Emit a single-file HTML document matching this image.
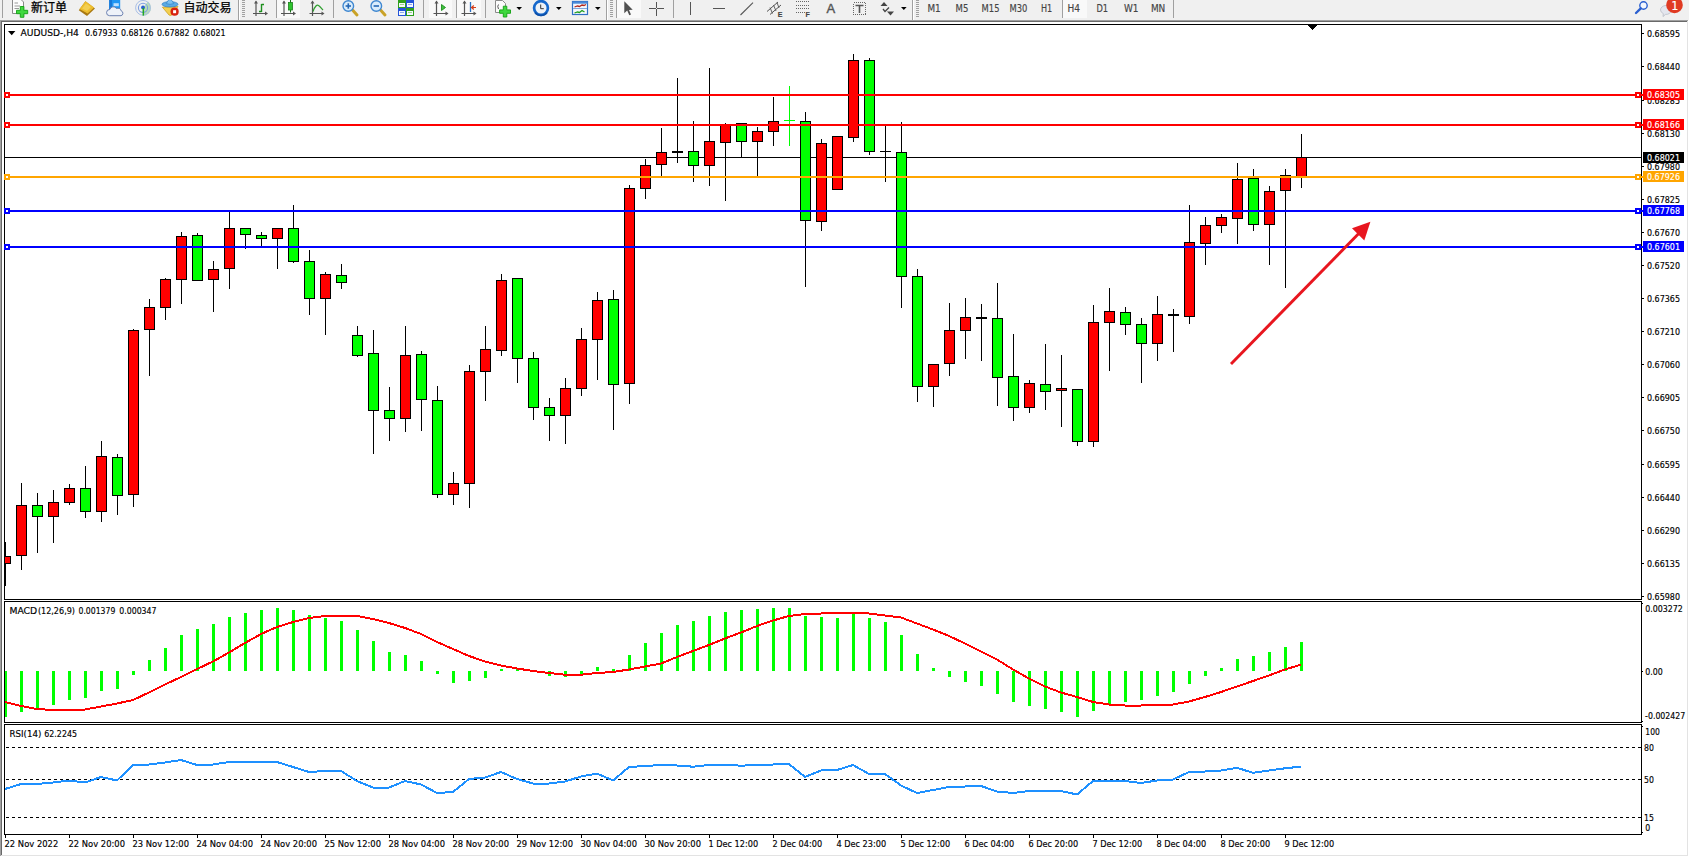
<!DOCTYPE html>
<html><head><meta charset="utf-8"><title>AUDUSD H4</title>
<style>
html,body{margin:0;padding:0;background:#fff}
body{width:1689px;height:857px;overflow:hidden;position:relative}
svg{position:absolute;left:0;top:0;display:block}
text{font-family:"DejaVu Sans Condensed","DejaVu Sans","Liberation Sans","Noto Sans CJK SC",sans-serif;font-stretch:condensed;font-size:9.2px;fill:#000;white-space:pre;stroke:#000;stroke-width:.15px}
text.ls{font-family:"Liberation Sans",sans-serif;font-stretch:normal}
.ce{shape-rendering:crispEdges}
.tf text{font-size:9.6px;fill:#444;stroke:#444}
text.cj{font-family:"Liberation Sans","Noto Sans CJK SC",sans-serif;font-stretch:normal;font-size:12px;fill:#000;stroke-width:.25px}
</style></head><body>
<svg width="1689" height="857" viewBox="0 0 1689 857">
<g class="ce">
<rect x="0" y="0" width="1689" height="857" fill="#fff"/><rect x="0" y="0" width="1689" height="20" fill="#f0f0f0"/><rect x="0" y="20" width="1688" height="1" fill="#a0a0a0"/><rect x="1" y="21" width="1686" height="1" fill="#696969"/><rect x="0" y="20" width="1" height="836" fill="#a0a0a0"/><rect x="1" y="21" width="1" height="834" fill="#696969"/><rect x="1687" y="21" width="1" height="835" fill="#e3e3e3"/><rect x="1" y="855" width="1687" height="1" fill="#e3e3e3"/><rect x="4" y="24" width="1638" height="1" fill="#000"/><rect x="4" y="599" width="1638" height="1" fill="#000"/><rect x="4" y="24" width="1" height="576" fill="#000"/><rect x="1641" y="24" width="1" height="576" fill="#000"/><rect x="4" y="601" width="1638" height="1" fill="#000"/><rect x="4" y="722" width="1638" height="1" fill="#000"/><rect x="4" y="601" width="1" height="122" fill="#000"/><rect x="1641" y="601" width="1" height="122" fill="#000"/><rect x="4" y="724" width="1638" height="1" fill="#000"/><rect x="4" y="834" width="1638" height="1" fill="#000"/><rect x="4" y="724" width="1" height="111" fill="#000"/><rect x="1641" y="724" width="1" height="111" fill="#000"/>
</g>
<g class="ce" id="main">
<rect x="5" y="157" width="1636" height="1" fill="#000"/><rect x="5" y="542" width="1" height="44" fill="#000"/><rect x="5" y="556" width="6" height="8" fill="#000"/><rect x="5" y="557" width="5" height="6" fill="#ff0000"/><rect x="21" y="483" width="1" height="87" fill="#000"/><rect x="16" y="505" width="11" height="51" fill="#000"/><rect x="17" y="506" width="9" height="49" fill="#ff0000"/><rect x="37" y="493" width="1" height="60" fill="#000"/><rect x="32" y="505" width="11" height="12" fill="#000"/><rect x="33" y="506" width="9" height="10" fill="#00ff00"/><rect x="53" y="490" width="1" height="53" fill="#000"/><rect x="48" y="502" width="11" height="15" fill="#000"/><rect x="49" y="503" width="9" height="13" fill="#ff0000"/><rect x="69" y="484" width="1" height="21" fill="#000"/><rect x="64" y="488" width="11" height="15" fill="#000"/><rect x="65" y="489" width="9" height="13" fill="#ff0000"/><rect x="85" y="466" width="1" height="52" fill="#000"/><rect x="80" y="488" width="11" height="24" fill="#000"/><rect x="81" y="489" width="9" height="22" fill="#00ff00"/><rect x="101" y="441" width="1" height="81" fill="#000"/><rect x="96" y="456" width="11" height="56" fill="#000"/><rect x="97" y="457" width="9" height="54" fill="#ff0000"/><rect x="117" y="454" width="1" height="61" fill="#000"/><rect x="112" y="457" width="11" height="39" fill="#000"/><rect x="113" y="458" width="9" height="37" fill="#00ff00"/><rect x="133" y="329" width="1" height="178" fill="#000"/><rect x="128" y="330" width="11" height="165" fill="#000"/><rect x="129" y="331" width="9" height="163" fill="#ff0000"/><rect x="149" y="299" width="1" height="77" fill="#000"/><rect x="144" y="307" width="11" height="23" fill="#000"/><rect x="145" y="308" width="9" height="21" fill="#ff0000"/><rect x="165" y="278" width="1" height="42" fill="#000"/><rect x="160" y="279" width="11" height="29" fill="#000"/><rect x="161" y="280" width="9" height="27" fill="#ff0000"/><rect x="181" y="232" width="1" height="72" fill="#000"/><rect x="176" y="236" width="11" height="44" fill="#000"/><rect x="177" y="237" width="9" height="42" fill="#ff0000"/><rect x="197" y="233" width="1" height="48" fill="#000"/><rect x="192" y="235" width="11" height="46" fill="#000"/><rect x="193" y="236" width="9" height="44" fill="#00ff00"/><rect x="213" y="261" width="1" height="51" fill="#000"/><rect x="208" y="269" width="11" height="11" fill="#000"/><rect x="209" y="270" width="9" height="9" fill="#ff0000"/><rect x="229" y="212" width="1" height="77" fill="#000"/><rect x="224" y="228" width="11" height="41" fill="#000"/><rect x="225" y="229" width="9" height="39" fill="#ff0000"/><rect x="245" y="228" width="1" height="21" fill="#000"/><rect x="240" y="228" width="11" height="7" fill="#000"/><rect x="241" y="229" width="9" height="5" fill="#00ff00"/><rect x="261" y="232" width="1" height="14" fill="#000"/><rect x="256" y="235" width="11" height="4" fill="#000"/><rect x="257" y="236" width="9" height="2" fill="#00ff00"/><rect x="277" y="228" width="1" height="41" fill="#000"/><rect x="272" y="228" width="11" height="11" fill="#000"/><rect x="273" y="229" width="9" height="9" fill="#ff0000"/><rect x="293" y="205" width="1" height="58" fill="#000"/><rect x="288" y="228" width="11" height="34" fill="#000"/><rect x="289" y="229" width="9" height="32" fill="#00ff00"/><rect x="309" y="250" width="1" height="65" fill="#000"/><rect x="304" y="261" width="11" height="38" fill="#000"/><rect x="305" y="262" width="9" height="36" fill="#00ff00"/><rect x="325" y="272" width="1" height="63" fill="#000"/><rect x="320" y="274" width="11" height="25" fill="#000"/><rect x="321" y="275" width="9" height="23" fill="#ff0000"/><rect x="341" y="264" width="1" height="25" fill="#000"/><rect x="336" y="275" width="11" height="8" fill="#000"/><rect x="337" y="276" width="9" height="6" fill="#00ff00"/><rect x="357" y="326" width="1" height="31" fill="#000"/><rect x="352" y="335" width="11" height="21" fill="#000"/><rect x="353" y="336" width="9" height="19" fill="#00ff00"/><rect x="373" y="330" width="1" height="124" fill="#000"/><rect x="368" y="353" width="11" height="58" fill="#000"/><rect x="369" y="354" width="9" height="56" fill="#00ff00"/><rect x="389" y="387" width="1" height="54" fill="#000"/><rect x="384" y="410" width="11" height="9" fill="#000"/><rect x="385" y="411" width="9" height="7" fill="#00ff00"/><rect x="405" y="326" width="1" height="106" fill="#000"/><rect x="400" y="355" width="11" height="64" fill="#000"/><rect x="401" y="356" width="9" height="62" fill="#ff0000"/><rect x="421" y="351" width="1" height="80" fill="#000"/><rect x="416" y="354" width="11" height="46" fill="#000"/><rect x="417" y="355" width="9" height="44" fill="#00ff00"/><rect x="437" y="386" width="1" height="112" fill="#000"/><rect x="432" y="400" width="11" height="95" fill="#000"/><rect x="433" y="401" width="9" height="93" fill="#00ff00"/><rect x="453" y="472" width="1" height="33" fill="#000"/><rect x="448" y="483" width="11" height="12" fill="#000"/><rect x="449" y="484" width="9" height="10" fill="#ff0000"/><rect x="469" y="365" width="1" height="143" fill="#000"/><rect x="464" y="371" width="11" height="113" fill="#000"/><rect x="465" y="372" width="9" height="111" fill="#ff0000"/><rect x="485" y="326" width="1" height="75" fill="#000"/><rect x="480" y="349" width="11" height="23" fill="#000"/><rect x="481" y="350" width="9" height="21" fill="#ff0000"/><rect x="501" y="274" width="1" height="82" fill="#000"/><rect x="496" y="280" width="11" height="71" fill="#000"/><rect x="497" y="281" width="9" height="69" fill="#ff0000"/><rect x="517" y="278" width="1" height="105" fill="#000"/><rect x="512" y="278" width="11" height="81" fill="#000"/><rect x="513" y="279" width="9" height="79" fill="#00ff00"/><rect x="533" y="352" width="1" height="68" fill="#000"/><rect x="528" y="358" width="11" height="50" fill="#000"/><rect x="529" y="359" width="9" height="48" fill="#00ff00"/><rect x="549" y="398" width="1" height="43" fill="#000"/><rect x="544" y="407" width="11" height="9" fill="#000"/><rect x="545" y="408" width="9" height="7" fill="#00ff00"/><rect x="565" y="378" width="1" height="66" fill="#000"/><rect x="560" y="388" width="11" height="28" fill="#000"/><rect x="561" y="389" width="9" height="26" fill="#ff0000"/><rect x="581" y="328" width="1" height="68" fill="#000"/><rect x="576" y="339" width="11" height="50" fill="#000"/><rect x="577" y="340" width="9" height="48" fill="#ff0000"/><rect x="597" y="292" width="1" height="88" fill="#000"/><rect x="592" y="300" width="11" height="40" fill="#000"/><rect x="593" y="301" width="9" height="38" fill="#ff0000"/><rect x="613" y="290" width="1" height="140" fill="#000"/><rect x="608" y="299" width="11" height="86" fill="#000"/><rect x="609" y="300" width="9" height="84" fill="#00ff00"/><rect x="629" y="185" width="1" height="219" fill="#000"/><rect x="624" y="188" width="11" height="196" fill="#000"/><rect x="625" y="189" width="9" height="194" fill="#ff0000"/><rect x="645" y="159" width="1" height="40" fill="#000"/><rect x="640" y="165" width="11" height="24" fill="#000"/><rect x="641" y="166" width="9" height="22" fill="#ff0000"/><rect x="661" y="128" width="1" height="48" fill="#000"/><rect x="656" y="152" width="11" height="13" fill="#000"/><rect x="657" y="153" width="9" height="11" fill="#ff0000"/><rect x="677" y="78" width="1" height="85" fill="#000"/><rect x="672" y="151" width="11" height="2" fill="#000"/><rect x="693" y="121" width="1" height="61" fill="#000"/><rect x="688" y="151" width="11" height="15" fill="#000"/><rect x="689" y="152" width="9" height="13" fill="#00ff00"/><rect x="709" y="68" width="1" height="118" fill="#000"/><rect x="704" y="141" width="11" height="25" fill="#000"/><rect x="705" y="142" width="9" height="23" fill="#ff0000"/><rect x="725" y="123" width="1" height="78" fill="#000"/><rect x="720" y="124" width="11" height="19" fill="#000"/><rect x="721" y="125" width="9" height="17" fill="#ff0000"/><rect x="741" y="123" width="1" height="34" fill="#000"/><rect x="736" y="123" width="11" height="19" fill="#000"/><rect x="737" y="124" width="9" height="17" fill="#00ff00"/><rect x="757" y="127" width="1" height="49" fill="#000"/><rect x="752" y="131" width="11" height="11" fill="#000"/><rect x="753" y="132" width="9" height="9" fill="#ff0000"/><rect x="773" y="97" width="1" height="49" fill="#000"/><rect x="768" y="121" width="11" height="11" fill="#000"/><rect x="769" y="122" width="9" height="9" fill="#ff0000"/><rect x="789" y="86" width="1" height="60" fill="#00ff00"/><rect x="784" y="120" width="11" height="1" fill="#00ff00"/><rect x="805" y="112" width="1" height="175" fill="#000"/><rect x="800" y="121" width="11" height="100" fill="#000"/><rect x="801" y="122" width="9" height="98" fill="#00ff00"/><rect x="821" y="139" width="1" height="92" fill="#000"/><rect x="816" y="143" width="11" height="79" fill="#000"/><rect x="817" y="144" width="9" height="77" fill="#ff0000"/><rect x="837" y="136" width="1" height="54" fill="#000"/><rect x="832" y="136" width="11" height="54" fill="#000"/><rect x="833" y="137" width="9" height="52" fill="#ff0000"/><rect x="853" y="54" width="1" height="88" fill="#000"/><rect x="848" y="60" width="11" height="78" fill="#000"/><rect x="849" y="61" width="9" height="76" fill="#ff0000"/><rect x="869" y="58" width="1" height="97" fill="#000"/><rect x="864" y="60" width="11" height="92" fill="#000"/><rect x="865" y="61" width="9" height="90" fill="#00ff00"/><rect x="885" y="126" width="1" height="56" fill="#000"/><rect x="880" y="151" width="11" height="1" fill="#000"/><rect x="901" y="122" width="1" height="186" fill="#000"/><rect x="896" y="152" width="11" height="125" fill="#000"/><rect x="897" y="153" width="9" height="123" fill="#00ff00"/><rect x="917" y="269" width="1" height="133" fill="#000"/><rect x="912" y="276" width="11" height="111" fill="#000"/><rect x="913" y="277" width="9" height="109" fill="#00ff00"/><rect x="933" y="364" width="1" height="43" fill="#000"/><rect x="928" y="364" width="11" height="23" fill="#000"/><rect x="929" y="365" width="9" height="21" fill="#ff0000"/><rect x="949" y="303" width="1" height="73" fill="#000"/><rect x="944" y="330" width="11" height="34" fill="#000"/><rect x="945" y="331" width="9" height="32" fill="#ff0000"/><rect x="965" y="298" width="1" height="61" fill="#000"/><rect x="960" y="317" width="11" height="14" fill="#000"/><rect x="961" y="318" width="9" height="12" fill="#ff0000"/><rect x="981" y="304" width="1" height="57" fill="#000"/><rect x="976" y="317" width="11" height="2" fill="#000"/><rect x="997" y="283" width="1" height="123" fill="#000"/><rect x="992" y="318" width="11" height="60" fill="#000"/><rect x="993" y="319" width="9" height="58" fill="#00ff00"/><rect x="1013" y="334" width="1" height="87" fill="#000"/><rect x="1008" y="376" width="11" height="32" fill="#000"/><rect x="1009" y="377" width="9" height="30" fill="#00ff00"/><rect x="1029" y="380" width="1" height="33" fill="#000"/><rect x="1024" y="383" width="11" height="25" fill="#000"/><rect x="1025" y="384" width="9" height="23" fill="#ff0000"/><rect x="1045" y="344" width="1" height="66" fill="#000"/><rect x="1040" y="384" width="11" height="8" fill="#000"/><rect x="1041" y="385" width="9" height="6" fill="#00ff00"/><rect x="1061" y="355" width="1" height="72" fill="#000"/><rect x="1056" y="388" width="11" height="3" fill="#000"/><rect x="1057" y="389" width="9" height="1" fill="#ff0000"/><rect x="1077" y="389" width="1" height="57" fill="#000"/><rect x="1072" y="389" width="11" height="53" fill="#000"/><rect x="1073" y="390" width="9" height="51" fill="#00ff00"/><rect x="1093" y="305" width="1" height="142" fill="#000"/><rect x="1088" y="322" width="11" height="120" fill="#000"/><rect x="1089" y="323" width="9" height="118" fill="#ff0000"/><rect x="1109" y="288" width="1" height="83" fill="#000"/><rect x="1104" y="311" width="11" height="12" fill="#000"/><rect x="1105" y="312" width="9" height="10" fill="#ff0000"/><rect x="1125" y="307" width="1" height="28" fill="#000"/><rect x="1120" y="312" width="11" height="13" fill="#000"/><rect x="1121" y="313" width="9" height="11" fill="#00ff00"/><rect x="1141" y="318" width="1" height="65" fill="#000"/><rect x="1136" y="324" width="11" height="20" fill="#000"/><rect x="1137" y="325" width="9" height="18" fill="#00ff00"/><rect x="1157" y="296" width="1" height="65" fill="#000"/><rect x="1152" y="314" width="11" height="30" fill="#000"/><rect x="1153" y="315" width="9" height="28" fill="#ff0000"/><rect x="1173" y="309" width="1" height="43" fill="#000"/><rect x="1168" y="314" width="11" height="2" fill="#000"/><rect x="1189" y="205" width="1" height="119" fill="#000"/><rect x="1184" y="242" width="11" height="75" fill="#000"/><rect x="1185" y="243" width="9" height="73" fill="#ff0000"/><rect x="1205" y="217" width="1" height="48" fill="#000"/><rect x="1200" y="225" width="11" height="19" fill="#000"/><rect x="1201" y="226" width="9" height="17" fill="#ff0000"/><rect x="1221" y="214" width="1" height="19" fill="#000"/><rect x="1216" y="217" width="11" height="9" fill="#000"/><rect x="1217" y="218" width="9" height="7" fill="#ff0000"/><rect x="1237" y="163" width="1" height="81" fill="#000"/><rect x="1232" y="179" width="11" height="40" fill="#000"/><rect x="1233" y="180" width="9" height="38" fill="#ff0000"/><rect x="1253" y="169" width="1" height="62" fill="#000"/><rect x="1248" y="178" width="11" height="47" fill="#000"/><rect x="1249" y="179" width="9" height="45" fill="#00ff00"/><rect x="1269" y="186" width="1" height="79" fill="#000"/><rect x="1264" y="191" width="11" height="34" fill="#000"/><rect x="1265" y="192" width="9" height="32" fill="#ff0000"/><rect x="1285" y="169" width="1" height="119" fill="#000"/><rect x="1280" y="175" width="11" height="16" fill="#000"/><rect x="1281" y="176" width="9" height="14" fill="#ff0000"/><rect x="1301" y="134" width="1" height="54" fill="#000"/><rect x="1296" y="157" width="11" height="20" fill="#000"/><rect x="1297" y="158" width="9" height="18" fill="#ff0000"/>
<rect x="4" y="94" width="1639" height="2" fill="#ff0000"/><rect x="4" y="92" width="6" height="6" fill="#ff0000"/><rect x="6" y="94" width="2" height="2" fill="#fff"/><rect x="1635" y="92" width="6" height="6" fill="#ff0000"/><rect x="1637" y="94" width="2" height="2" fill="#fff"/><rect x="1643" y="89" width="41" height="11" fill="#ff0000"/><rect x="4" y="124" width="1639" height="2" fill="#ff0000"/><rect x="4" y="122" width="6" height="6" fill="#ff0000"/><rect x="6" y="124" width="2" height="2" fill="#fff"/><rect x="1635" y="122" width="6" height="6" fill="#ff0000"/><rect x="1637" y="124" width="2" height="2" fill="#fff"/><rect x="1643" y="119" width="41" height="11" fill="#ff0000"/><rect x="4" y="176" width="1639" height="2" fill="#ffa500"/><rect x="4" y="174" width="6" height="6" fill="#ffa500"/><rect x="6" y="176" width="2" height="2" fill="#fff"/><rect x="1635" y="174" width="6" height="6" fill="#ffa500"/><rect x="1637" y="176" width="2" height="2" fill="#fff"/><rect x="1643" y="171" width="41" height="11" fill="#ffa500"/><rect x="4" y="210" width="1639" height="2" fill="#0000ff"/><rect x="4" y="208" width="6" height="6" fill="#0000ff"/><rect x="6" y="210" width="2" height="2" fill="#fff"/><rect x="1635" y="208" width="6" height="6" fill="#0000ff"/><rect x="1637" y="210" width="2" height="2" fill="#fff"/><rect x="1643" y="205" width="41" height="11" fill="#0000ff"/><rect x="4" y="246" width="1639" height="2" fill="#0000ff"/><rect x="4" y="244" width="6" height="6" fill="#0000ff"/><rect x="6" y="246" width="2" height="2" fill="#fff"/><rect x="1635" y="244" width="6" height="6" fill="#0000ff"/><rect x="1637" y="246" width="2" height="2" fill="#fff"/><rect x="1643" y="241" width="41" height="11" fill="#0000ff"/><rect x="1643" y="152" width="41" height="11" fill="#000"/><rect x="1308" y="25" width="9" height="1" fill="#000"/><rect x="1309" y="26" width="7" height="1" fill="#000"/><rect x="1310" y="27" width="5" height="1" fill="#000"/><rect x="1311" y="28" width="3" height="1" fill="#000"/><rect x="1312" y="29" width="1" height="1" fill="#000"/><path d="M8 31H15.4L11.7 35.2z" fill="#000" shape-rendering="auto"/><rect x="1642" y="33" width="2" height="1" fill="#000"/><rect x="1642" y="66" width="2" height="1" fill="#000"/><rect x="1642" y="100" width="2" height="1" fill="#000"/><rect x="1642" y="133" width="2" height="1" fill="#000"/><rect x="1642" y="166" width="2" height="1" fill="#000"/><rect x="1642" y="199" width="2" height="1" fill="#000"/><rect x="1642" y="232" width="2" height="1" fill="#000"/><rect x="1642" y="265" width="2" height="1" fill="#000"/><rect x="1642" y="298" width="2" height="1" fill="#000"/><rect x="1642" y="331" width="2" height="1" fill="#000"/><rect x="1642" y="364" width="2" height="1" fill="#000"/><rect x="1642" y="397" width="2" height="1" fill="#000"/><rect x="1642" y="430" width="2" height="1" fill="#000"/><rect x="1642" y="464" width="2" height="1" fill="#000"/><rect x="1642" y="497" width="2" height="1" fill="#000"/><rect x="1642" y="530" width="2" height="1" fill="#000"/><rect x="1642" y="563" width="2" height="1" fill="#000"/><rect x="1642" y="596" width="2" height="1" fill="#000"/>
</g>
<g id="plabels">
<text x="1647" y="37" textLength="33" lengthAdjust="spacingAndGlyphs">0.68595</text><text x="1647" y="70" textLength="33" lengthAdjust="spacingAndGlyphs">0.68440</text><text x="1647" y="104" textLength="33" lengthAdjust="spacingAndGlyphs">0.68285</text><text x="1647" y="137" textLength="33" lengthAdjust="spacingAndGlyphs">0.68130</text><text x="1647" y="170" textLength="33" lengthAdjust="spacingAndGlyphs">0.67980</text><text x="1647" y="203" textLength="33" lengthAdjust="spacingAndGlyphs">0.67825</text><text x="1647" y="236" textLength="33" lengthAdjust="spacingAndGlyphs">0.67670</text><text x="1647" y="269" textLength="33" lengthAdjust="spacingAndGlyphs">0.67520</text><text x="1647" y="302" textLength="33" lengthAdjust="spacingAndGlyphs">0.67365</text><text x="1647" y="335" textLength="33" lengthAdjust="spacingAndGlyphs">0.67210</text><text x="1647" y="368" textLength="33" lengthAdjust="spacingAndGlyphs">0.67060</text><text x="1647" y="401" textLength="33" lengthAdjust="spacingAndGlyphs">0.66905</text><text x="1647" y="434" textLength="33" lengthAdjust="spacingAndGlyphs">0.66750</text><text x="1647" y="468" textLength="33" lengthAdjust="spacingAndGlyphs">0.66595</text><text x="1647" y="501" textLength="33" lengthAdjust="spacingAndGlyphs">0.66440</text><text x="1647" y="534" textLength="33" lengthAdjust="spacingAndGlyphs">0.66290</text><text x="1647" y="567" textLength="33" lengthAdjust="spacingAndGlyphs">0.66135</text><text x="1647" y="600" textLength="33" lengthAdjust="spacingAndGlyphs">0.65980</text><g class="ce"><rect x="1643" y="89" width="41" height="11" fill="#ff0000"/><rect x="1643" y="119" width="41" height="11" fill="#ff0000"/><rect x="1643" y="171" width="41" height="11" fill="#ffa500"/><rect x="1643" y="205" width="41" height="11" fill="#0000ff"/><rect x="1643" y="241" width="41" height="11" fill="#0000ff"/><rect x="1643" y="152" width="41" height="11" fill="#000"/></g><text x="1647" y="98" textLength="33" lengthAdjust="spacingAndGlyphs" style="fill:#fff;stroke:#fff">0.68305</text><text x="1647" y="128" textLength="33" lengthAdjust="spacingAndGlyphs" style="fill:#fff;stroke:#fff">0.68166</text><text x="1647" y="180" textLength="33" lengthAdjust="spacingAndGlyphs" style="fill:#fff;stroke:#fff">0.67926</text><text x="1647" y="214" textLength="33" lengthAdjust="spacingAndGlyphs" style="fill:#fff;stroke:#fff">0.67768</text><text x="1647" y="250" textLength="33" lengthAdjust="spacingAndGlyphs" style="fill:#fff;stroke:#fff">0.67601</text><text x="1647" y="161" textLength="33" lengthAdjust="spacingAndGlyphs" style="fill:#fff;stroke:#fff">0.68021</text><text y="36"><tspan x="20.6" textLength="58.3" lengthAdjust="spacingAndGlyphs">AUDUSD-,H4</tspan> <tspan x="84.9" textLength="32.7" lengthAdjust="spacingAndGlyphs">0.67933</tspan> <tspan x="120.9" textLength="32.7" lengthAdjust="spacingAndGlyphs">0.68126</tspan> <tspan x="156.9" textLength="32.7" lengthAdjust="spacingAndGlyphs">0.67882</tspan> <tspan x="192.9" textLength="32.7" lengthAdjust="spacingAndGlyphs">0.68021</tspan></text>
</g>
<g id="arrow"><path d="M1231 364L1358.5 233.8" stroke="#e8161f" stroke-width="2.9" fill="none"/><path d="M1370.4 221.8L1352 228.2L1364.3 240.5z" fill="#e8161f"/></g>
<g class="ce" id="macd">
<rect x="5" y="671" width="2" height="46" fill="#00ff00"/><rect x="20" y="671" width="3" height="41" fill="#00ff00"/><rect x="36" y="671" width="3" height="37" fill="#00ff00"/><rect x="52" y="671" width="3" height="34" fill="#00ff00"/><rect x="68" y="671" width="3" height="29" fill="#00ff00"/><rect x="84" y="671" width="3" height="27" fill="#00ff00"/><rect x="100" y="671" width="3" height="20" fill="#00ff00"/><rect x="116" y="671" width="3" height="18" fill="#00ff00"/><rect x="132" y="671" width="3" height="4" fill="#00ff00"/><rect x="148" y="660" width="3" height="11" fill="#00ff00"/><rect x="164" y="648" width="3" height="23" fill="#00ff00"/><rect x="180" y="635" width="3" height="36" fill="#00ff00"/><rect x="196" y="629" width="3" height="42" fill="#00ff00"/><rect x="212" y="624" width="3" height="47" fill="#00ff00"/><rect x="228" y="617" width="3" height="54" fill="#00ff00"/><rect x="244" y="613" width="3" height="58" fill="#00ff00"/><rect x="260" y="610" width="3" height="61" fill="#00ff00"/><rect x="276" y="608" width="3" height="63" fill="#00ff00"/><rect x="292" y="610" width="3" height="61" fill="#00ff00"/><rect x="308" y="615" width="3" height="56" fill="#00ff00"/><rect x="324" y="618" width="3" height="53" fill="#00ff00"/><rect x="340" y="621" width="3" height="50" fill="#00ff00"/><rect x="356" y="630" width="3" height="41" fill="#00ff00"/><rect x="372" y="641" width="3" height="30" fill="#00ff00"/><rect x="388" y="652" width="3" height="19" fill="#00ff00"/><rect x="404" y="655" width="3" height="16" fill="#00ff00"/><rect x="420" y="661" width="3" height="10" fill="#00ff00"/><rect x="436" y="671" width="3" height="3" fill="#00ff00"/><rect x="452" y="671" width="3" height="12" fill="#00ff00"/><rect x="468" y="671" width="3" height="10" fill="#00ff00"/><rect x="484" y="671" width="3" height="7" fill="#00ff00"/><rect x="500" y="669" width="3" height="2" fill="#00ff00"/><rect x="516" y="668" width="3" height="3" fill="#00ff00"/><rect x="532" y="671" width="3" height="1" fill="#00ff00"/><rect x="548" y="671" width="3" height="5" fill="#00ff00"/><rect x="564" y="671" width="3" height="6" fill="#00ff00"/><rect x="580" y="671" width="3" height="4" fill="#00ff00"/><rect x="596" y="667" width="3" height="4" fill="#00ff00"/><rect x="612" y="669" width="3" height="2" fill="#00ff00"/><rect x="628" y="655" width="3" height="16" fill="#00ff00"/><rect x="644" y="643" width="3" height="28" fill="#00ff00"/><rect x="660" y="633" width="3" height="38" fill="#00ff00"/><rect x="676" y="625" width="3" height="46" fill="#00ff00"/><rect x="692" y="621" width="3" height="50" fill="#00ff00"/><rect x="708" y="616" width="3" height="55" fill="#00ff00"/><rect x="724" y="612" width="3" height="59" fill="#00ff00"/><rect x="740" y="610" width="3" height="61" fill="#00ff00"/><rect x="756" y="609" width="3" height="62" fill="#00ff00"/><rect x="772" y="608" width="3" height="63" fill="#00ff00"/><rect x="788" y="608" width="3" height="63" fill="#00ff00"/><rect x="804" y="616" width="3" height="55" fill="#00ff00"/><rect x="820" y="617" width="3" height="54" fill="#00ff00"/><rect x="836" y="618" width="3" height="53" fill="#00ff00"/><rect x="852" y="614" width="3" height="57" fill="#00ff00"/><rect x="868" y="618" width="3" height="53" fill="#00ff00"/><rect x="884" y="622" width="3" height="49" fill="#00ff00"/><rect x="900" y="635" width="3" height="36" fill="#00ff00"/><rect x="916" y="654" width="3" height="17" fill="#00ff00"/><rect x="932" y="668" width="3" height="3" fill="#00ff00"/><rect x="948" y="671" width="3" height="6" fill="#00ff00"/><rect x="964" y="671" width="3" height="11" fill="#00ff00"/><rect x="980" y="671" width="3" height="15" fill="#00ff00"/><rect x="996" y="671" width="3" height="23" fill="#00ff00"/><rect x="1012" y="671" width="3" height="31" fill="#00ff00"/><rect x="1028" y="671" width="3" height="35" fill="#00ff00"/><rect x="1044" y="671" width="3" height="38" fill="#00ff00"/><rect x="1060" y="671" width="3" height="41" fill="#00ff00"/><rect x="1076" y="671" width="3" height="46" fill="#00ff00"/><rect x="1092" y="671" width="3" height="40" fill="#00ff00"/><rect x="1108" y="671" width="3" height="33" fill="#00ff00"/><rect x="1124" y="671" width="3" height="31" fill="#00ff00"/><rect x="1140" y="671" width="3" height="29" fill="#00ff00"/><rect x="1156" y="671" width="3" height="25" fill="#00ff00"/><rect x="1172" y="671" width="3" height="21" fill="#00ff00"/><rect x="1188" y="671" width="3" height="13" fill="#00ff00"/><rect x="1204" y="671" width="3" height="5" fill="#00ff00"/><rect x="1220" y="668" width="3" height="3" fill="#00ff00"/><rect x="1236" y="659" width="3" height="12" fill="#00ff00"/><rect x="1252" y="656" width="3" height="15" fill="#00ff00"/><rect x="1268" y="652" width="3" height="19" fill="#00ff00"/><rect x="1284" y="647" width="3" height="24" fill="#00ff00"/><rect x="1300" y="642" width="3" height="29" fill="#00ff00"/><polyline points="5,702 21,706 37,709 53,710 69,710 85,709.5 101,706.5 117,703.5 133,700 149,692.5 165,684.5 181,677 197,669 213,661.5 229,652.5 245,643 261,634 277,627 293,622 309,618 325,616 341,615.7 357,616 373,619 389,623 405,628 421,634 437,642 453,649 469,656 485,661.5 501,665.5 517,668.5 533,671 549,673 565,674.7 581,674.7 597,673 613,672 629,669.5 645,666.5 661,663.5 677,657 693,651 709,645 725,638.5 741,632.5 757,626 773,620.5 789,616 805,614 821,613.5 837,613 853,613 869,613.5 885,615.5 901,617.5 917,623.5 933,629.5 949,636 965,643.5 981,651.5 997,659.5 1013,669.5 1029,678.5 1045,686.5 1061,692.5 1077,697 1093,702 1109,704.5 1125,705.5 1141,705.5 1157,705 1173,704.5 1189,701.5 1205,697 1221,692 1237,686.5 1253,681 1269,675.5 1285,669.5 1301,664.6" fill="none" stroke="#ff0000" stroke-width="2" stroke-linejoin="round"/><rect x="1642" y="603" width="1" height="1" fill="#000"/><rect x="1642" y="671" width="1" height="1" fill="#000"/><rect x="1642" y="721" width="1" height="1" fill="#000"/>
</g>
<text y="614"><tspan x="9.5" textLength="27.7" lengthAdjust="spacingAndGlyphs">MACD</tspan><tspan x="37.9" textLength="37.1" lengthAdjust="spacingAndGlyphs">(12,26,9)</tspan> <tspan x="78.5" textLength="36.8" lengthAdjust="spacingAndGlyphs">0.001379</tspan> <tspan x="119.3" textLength="37.2" lengthAdjust="spacingAndGlyphs">0.000347</tspan></text><text x="1645.2" y="612" textLength="37.7" lengthAdjust="spacingAndGlyphs">0.003272</text><text x="1645.2" y="675" textLength="17.5" lengthAdjust="spacingAndGlyphs">0.00</text><text x="1645.1" y="719" textLength="40.2" lengthAdjust="spacingAndGlyphs">-0.002427</text><g class="ce" id="rsi">
<path d="M6 747.5H1641" stroke="#000" stroke-width="1" stroke-dasharray="3 3" fill="none"/><path d="M6 779.5H1641" stroke="#000" stroke-width="1" stroke-dasharray="3 3" fill="none"/><path d="M6 817.5H1641" stroke="#000" stroke-width="1" stroke-dasharray="3 3" fill="none"/><polyline points="5,789 21,784 37,784 53,782.5 69,780.5 85,782.5 101,777 117,780.5 133,765 149,764.5 165,762.5 181,760 197,765 213,764.5 229,762 245,762 261,762 277,762 293,767 309,772 325,771 341,771 357,781 373,787.5 389,787.5 405,781 421,784.5 437,793 453,792 469,779 485,777.5 501,772 517,779 533,783.5 549,783.5 565,781.5 581,776.5 597,773.5 613,780.5 629,767 645,766 661,765 677,765.5 693,766.7 709,765 725,764.7 741,765.7 757,765 773,764.5 789,764 805,777 821,770.5 837,770 853,765 869,774 885,774 901,785.5 917,793 933,790 949,787 965,786.5 981,786 997,791.5 1013,793 1029,791 1045,791 1061,791 1077,794.5 1093,781 1109,781 1125,781 1141,783 1157,780.5 1173,779.5 1189,772 1205,771.5 1221,770.5 1237,767.8 1253,772.8 1269,770.5 1285,768.3 1301,766.6" fill="none" stroke="#1e90ff" stroke-width="2" stroke-linejoin="round"/><rect x="1642" y="726" width="1" height="1" fill="#000"/><rect x="1642" y="832" width="1" height="1" fill="#000"/><rect x="5" y="835" width="1" height="3" fill="#000"/><rect x="69" y="835" width="1" height="3" fill="#000"/><rect x="133" y="835" width="1" height="3" fill="#000"/><rect x="197" y="835" width="1" height="3" fill="#000"/><rect x="261" y="835" width="1" height="3" fill="#000"/><rect x="325" y="835" width="1" height="3" fill="#000"/><rect x="389" y="835" width="1" height="3" fill="#000"/><rect x="453" y="835" width="1" height="3" fill="#000"/><rect x="517" y="835" width="1" height="3" fill="#000"/><rect x="581" y="835" width="1" height="3" fill="#000"/><rect x="645" y="835" width="1" height="3" fill="#000"/><rect x="709" y="835" width="1" height="3" fill="#000"/><rect x="773" y="835" width="1" height="3" fill="#000"/><rect x="837" y="835" width="1" height="3" fill="#000"/><rect x="901" y="835" width="1" height="3" fill="#000"/><rect x="965" y="835" width="1" height="3" fill="#000"/><rect x="1029" y="835" width="1" height="3" fill="#000"/><rect x="1093" y="835" width="1" height="3" fill="#000"/><rect x="1157" y="835" width="1" height="3" fill="#000"/><rect x="1221" y="835" width="1" height="3" fill="#000"/><rect x="1285" y="835" width="1" height="3" fill="#000"/>
</g>
<text y="737"><tspan x="9.5" textLength="31.8" lengthAdjust="spacingAndGlyphs">RSI(14)</tspan> <tspan x="44.3" textLength="32.7" lengthAdjust="spacingAndGlyphs">62.2245</tspan></text><text x="1645.3" y="735" textLength="14.5" lengthAdjust="spacingAndGlyphs">100</text><text x="1644" y="751" textLength="9.9" lengthAdjust="spacingAndGlyphs">80</text><text x="1644" y="783" textLength="9.9" lengthAdjust="spacingAndGlyphs">50</text><text x="1644" y="821" textLength="9.9" lengthAdjust="spacingAndGlyphs">15</text><text x="1645.3" y="831" textLength="5" lengthAdjust="spacingAndGlyphs">0</text><text x="4.5" y="847" textLength="53.8" lengthAdjust="spacingAndGlyphs">22 Nov 2022</text><text x="68.5" y="847" textLength="56.5" lengthAdjust="spacingAndGlyphs">22 Nov 20:00</text><text x="132.5" y="847" textLength="56.5" lengthAdjust="spacingAndGlyphs">23 Nov 12:00</text><text x="196.5" y="847" textLength="56.5" lengthAdjust="spacingAndGlyphs">24 Nov 04:00</text><text x="260.5" y="847" textLength="56.5" lengthAdjust="spacingAndGlyphs">24 Nov 20:00</text><text x="324.5" y="847" textLength="56.5" lengthAdjust="spacingAndGlyphs">25 Nov 12:00</text><text x="388.5" y="847" textLength="56.5" lengthAdjust="spacingAndGlyphs">28 Nov 04:00</text><text x="452.5" y="847" textLength="56.5" lengthAdjust="spacingAndGlyphs">28 Nov 20:00</text><text x="516.5" y="847" textLength="56.5" lengthAdjust="spacingAndGlyphs">29 Nov 12:00</text><text x="580.5" y="847" textLength="56.5" lengthAdjust="spacingAndGlyphs">30 Nov 04:00</text><text x="644.5" y="847" textLength="56.5" lengthAdjust="spacingAndGlyphs">30 Nov 20:00</text><text x="708.5" y="847" textLength="49.6" lengthAdjust="spacingAndGlyphs">1 Dec 12:00</text><text x="772.5" y="847" textLength="49.6" lengthAdjust="spacingAndGlyphs">2 Dec 04:00</text><text x="836.5" y="847" textLength="49.6" lengthAdjust="spacingAndGlyphs">4 Dec 23:00</text><text x="900.5" y="847" textLength="49.6" lengthAdjust="spacingAndGlyphs">5 Dec 12:00</text><text x="964.5" y="847" textLength="49.6" lengthAdjust="spacingAndGlyphs">6 Dec 04:00</text><text x="1028.5" y="847" textLength="49.6" lengthAdjust="spacingAndGlyphs">6 Dec 20:00</text><text x="1092.5" y="847" textLength="49.6" lengthAdjust="spacingAndGlyphs">7 Dec 12:00</text><text x="1156.5" y="847" textLength="49.6" lengthAdjust="spacingAndGlyphs">8 Dec 04:00</text><text x="1220.5" y="847" textLength="49.6" lengthAdjust="spacingAndGlyphs">8 Dec 20:00</text><text x="1284.5" y="847" textLength="49.6" lengthAdjust="spacingAndGlyphs">9 Dec 12:00</text>
<g id="toolbar">
<g class="ce"><rect x="2" y="0" width="1" height="18" fill="#a0a0a0"/><rect x="238" y="0" width="1" height="20" fill="#a0a0a0"/><rect x="239" y="0" width="1" height="20" fill="#fff"/><rect x="242" y="0" width="3" height="1" fill="#a0a0a0"/><rect x="242" y="2" width="3" height="1" fill="#a0a0a0"/><rect x="242" y="4" width="3" height="1" fill="#a0a0a0"/><rect x="242" y="6" width="3" height="1" fill="#a0a0a0"/><rect x="242" y="8" width="3" height="1" fill="#a0a0a0"/><rect x="242" y="10" width="3" height="1" fill="#a0a0a0"/><rect x="242" y="12" width="3" height="1" fill="#a0a0a0"/><rect x="242" y="14" width="3" height="1" fill="#a0a0a0"/><rect x="242" y="16" width="3" height="1" fill="#a0a0a0"/><rect x="276" y="0" width="1" height="18" fill="#a0a0a0"/><rect x="277" y="0" width="23" height="18" fill="#f9f9f9"/><rect x="333" y="0" width="1" height="18" fill="#a0a0a0"/><rect x="423" y="0" width="1" height="18" fill="#a0a0a0"/><rect x="429" y="0" width="23" height="18" fill="#f9f9f9"/><rect x="456" y="0" width="1" height="18" fill="#a0a0a0"/><rect x="457" y="0" width="24" height="18" fill="#f9f9f9"/><rect x="485" y="0" width="1" height="18" fill="#a0a0a0"/><rect x="606" y="0" width="1" height="20" fill="#a0a0a0"/><rect x="607" y="0" width="1" height="20" fill="#fff"/><rect x="610" y="0" width="3" height="1" fill="#a0a0a0"/><rect x="610" y="2" width="3" height="1" fill="#a0a0a0"/><rect x="610" y="4" width="3" height="1" fill="#a0a0a0"/><rect x="610" y="6" width="3" height="1" fill="#a0a0a0"/><rect x="610" y="8" width="3" height="1" fill="#a0a0a0"/><rect x="610" y="10" width="3" height="1" fill="#a0a0a0"/><rect x="610" y="12" width="3" height="1" fill="#a0a0a0"/><rect x="610" y="14" width="3" height="1" fill="#a0a0a0"/><rect x="610" y="16" width="3" height="1" fill="#a0a0a0"/><rect x="616" y="0" width="1" height="18" fill="#a0a0a0"/><rect x="617" y="0" width="24" height="18" fill="#f9f9f9"/><rect x="673" y="0" width="1" height="18" fill="#a0a0a0"/><rect x="912" y="0" width="1" height="20" fill="#a0a0a0"/><rect x="913" y="0" width="1" height="20" fill="#fff"/><rect x="916" y="0" width="3" height="1" fill="#a0a0a0"/><rect x="916" y="2" width="3" height="1" fill="#a0a0a0"/><rect x="916" y="4" width="3" height="1" fill="#a0a0a0"/><rect x="916" y="6" width="3" height="1" fill="#a0a0a0"/><rect x="916" y="8" width="3" height="1" fill="#a0a0a0"/><rect x="916" y="10" width="3" height="1" fill="#a0a0a0"/><rect x="916" y="12" width="3" height="1" fill="#a0a0a0"/><rect x="916" y="14" width="3" height="1" fill="#a0a0a0"/><rect x="916" y="16" width="3" height="1" fill="#a0a0a0"/><rect x="1062" y="0" width="1" height="18" fill="#a0a0a0"/><rect x="1063" y="0" width="24" height="18" fill="#f9f9f9"/><rect x="1173" y="0" width="1" height="18" fill="#a0a0a0"/></g>
<g><path d="M12.5 -1H20.5L23.5 2V13.5H12.5z" fill="#fdfdfd" stroke="#8a8a8a" stroke-width="1"/><path d="M14.5 3H18M14.5 6H20M14.5 8.5H19" stroke="#9a9a9a" stroke-width="1"/><path d="M20.300 6.500h3.600v3.800h3.800v3.400h-3.800v3.600h-3.600v-3.600h-3.800v-3.400h3.800z" fill="#3fd83f" stroke="#12a012" stroke-width=".9"/></g>
<text class="cj" x="31" y="11.700">新订单</text>
<g><path d="M78.800 10.200L85.400 1.200L95 8.600L87 15.900z" fill="#a87812"/><path d="M79.500 9L85.500 1.200L94.200 7.600L87.600 13.600z" fill="#ecbc2c"/><path d="M82 8.500L86 3.500L91 7L87 11z" fill="#f6d560" opacity=".7"/></g>
<g><path d="M109.200 0H120.200V9.500H109.200z" fill="#2196f3"/><path d="M109.200 0H112V9.500H109.200z" fill="#1878d8"/><path d="M113.500 3.200H118.800V6.200H113.500z" fill="#bfe0ff"/><path d="M109.500 15.700a3.100 3.100 0 0 1 .3 -6.200a3.700 3.700 0 0 1 6.700 -1a3.300 3.300 0 0 1 4.700 2.400a2.500 2.500 0 0 1 -.2 4.800z" fill="#eef2f9" stroke="#5d74a8" stroke-width=".9"/></g>
<g fill="none"><path d="M143 7.800L143 15.800A8 8 0 0 0 151 7.800A8 8 0 0 0 148 1.600z" fill="#b4dbb4" opacity=".95"/><circle cx="143" cy="7.800" r="7.400" stroke="#a9bfe6" stroke-width="1"/><circle cx="143" cy="7.800" r="4.600" stroke="#7d9fe0" stroke-width="1.100"/><circle cx="143" cy="7.400" r="1.900" fill="#2a5fcf"/><path d="M143.300 8V15.600" stroke="#22a722" stroke-width="1.500"/></g>
<g><path d="M162.400 7.200L178 6.500L171.500 15.200Q170.300 15.800 169 15z" fill="#f3cf4e" stroke="#c79a14" stroke-width=".7"/><ellipse cx="170" cy="4.300" rx="8" ry="2.700" fill="#5aaae4" stroke="#2d7cc0" stroke-width=".7"/><path d="M166.300 3.600Q170 -5 173.700 3.600Q170 5 166.300 3.600z" fill="#7cc0f0" stroke="#2d7cc0" stroke-width=".6"/><circle cx="174.600" cy="11.700" r="4.100" fill="#d8220f"/><rect x="173.100" y="10.200" width="3" height="3" fill="#fff"/></g>
<text class="cj" x="183.4" y="11.700">自动交易</text>
<g><path d="M256 1.5V16M253 13.5H266" stroke="#555" stroke-width="1.2" fill="none"/><path d="M256 0.5l-2 3h4zM268 13.5l-3 -2v4z" fill="#555"/><path d="M261.5 4V12M261.5 4.5H264M259 11.5H261.5" stroke="#1d8f1d" stroke-width="1.4" fill="none"/></g>
<g><path d="M284 1.5V16M281 13.5H294" stroke="#555" stroke-width="1.2" fill="none"/><path d="M284 0.5l-2 3h4zM296 13.5l-3 -2v4z" fill="#555"/><path d="M290.5 0V12.5" stroke="#1d6f1d" stroke-width="1"/><rect x="288.5" y="2.5" width="4" height="7.5" fill="#2fc52f" stroke="#1d7f1d" stroke-width=".8"/></g>
<g><path d="M312.5 1.5V16M309.5 13.5H322.5" stroke="#555" stroke-width="1.2" fill="none"/><path d="M312.5 0.5l-2 3h4zM324.5 13.5l-3 -2v4z" fill="#555"/><path d="M313 11.5C315 6 317 4.5 318.5 5.5S321.500 8.5 323 10" stroke="#2f9f2f" stroke-width="1.3" fill="none"/></g>
<g><path d="M352.5 10L357 15" stroke="#c9a227" stroke-width="3" stroke-linecap="round"/><circle cx="348.3" cy="6" r="5.3" fill="#d9ecfb" stroke="#3f87d0" stroke-width="1.4"/><path d="M345.6 6H351" stroke="#2467b5" stroke-width="1.6"/><path d="M348.3 3.3V8.700" stroke="#2467b5" stroke-width="1.6"/></g>
<g><path d="M380.5 10L385 15" stroke="#c9a227" stroke-width="3" stroke-linecap="round"/><circle cx="376.3" cy="6" r="5.3" fill="#d9ecfb" stroke="#3f87d0" stroke-width="1.4"/><path d="M373.6 6H379" stroke="#2467b5" stroke-width="1.6"/></g>
<g shape-rendering="crispEdges"><rect x="398" y="0" width="8" height="8" fill="#2fa01c"/><rect x="406" y="0" width="8" height="8" fill="#2454d8"/><rect x="398" y="8" width="8" height="8" fill="#2454d8"/><rect x="406" y="8" width="8" height="8" fill="#2fa01c"/><g fill="#f4f8ff"><rect x="399" y="3" width="6" height="4"/><rect x="407" y="3" width="6" height="4"/><rect x="399" y="11" width="6" height="4"/><rect x="407" y="11" width="6" height="4"/></g><g fill="#9fd08f"><rect x="400" y="4" width="4" height="1"/><rect x="408" y="12" width="4" height="1"/></g><g fill="#8fa8ea"><rect x="408" y="4" width="4" height="1"/><rect x="400" y="12" width="4" height="1"/></g></g>
<g><path d="M436.5 1.5V16M433.5 13.5H446.5" stroke="#555" stroke-width="1.2" fill="none"/><path d="M436.5 0.5l-2 3h4zM448.5 13.5l-3 -2v4z" fill="#555"/><path d="M441.5 4.500L445.500 7.500L441.5 10.500z" fill="#3fc13f" stroke="#1d8f1d" stroke-width=".9"/></g>
<g><path d="M464.5 1.5V16M461.5 13.5H474.5" stroke="#555" stroke-width="1.2" fill="none"/><path d="M464.5 0.5l-2 3h4zM476.5 13.5l-3 -2v4z" fill="#555"/><path d="M470.500 2V12" stroke="#2a6fbf" stroke-width="1.3"/><path d="M476 7.500H472M473.800 5.500l-2.300 2l2.300 2" stroke="#d6401c" stroke-width="1.2" fill="none"/></g>
<g><path d="M495.5 0.500H502.500L505.500 3.500V12.500H495.5z" fill="#fbfbfb" stroke="#8a8a8a" stroke-width="1"/><path d="M498.500 4.500q-1.500 1.500 0 4.500" stroke="#555" fill="none" stroke-width="1"/><path d="M503.300 6.200h3.500v3.700h3.700v3.400h-3.700v3.700h-3.500v-3.700h-3.700v-3.400h3.700z" fill="#3fd83f" stroke="#12a012" stroke-width=".9"/></g>
<path d="M516.4 7H522L519.2 10z" fill="#000" shape-rendering="auto"/><g><circle cx="541" cy="8" r="6.900" fill="#eef2f7" stroke="#1668cc" stroke-width="2.700"/><path d="M535 12.500A7.500 7.500 0 0 0 547 12.500" fill="none" stroke="#0c4fa8" stroke-width="1.600"/><path d="M540.700 4.500V8.700H543.800" stroke="#333" stroke-width="1" fill="none"/></g>
<path d="M556 7H561.6L558.8 10z" fill="#000" shape-rendering="auto"/><g><rect x="572.5" y="1.500" width="15" height="13" fill="#f4f8fd" stroke="#2f6fc4" stroke-width="1.200"/><rect x="572.5" y="1.500" width="15" height="2.200" fill="#4a8ad8"/><path d="M573 8.500H587" stroke="#7fa8dc" stroke-width="1"/><path d="M574.500 7l3 -1l2 .5l2.500 -1.500l2 .5l2 -1" stroke="#b2281c" stroke-width="1.300" fill="none"/><path d="M574.500 13l3 -1l2 .5l2.500 -2l2.500 1.500" stroke="#1f9f1f" stroke-width="1.300" fill="none"/></g>
<path d="M595 7H600.6L597.8 10z" fill="#000" shape-rendering="auto"/><path d="M624.3 1.300V13.300L627.200 10.600L629.300 15.200L631 14.400L629 9.900L632.700 9.700z" fill="#505050"/>
<path d="M656.500 1.500V15.500M649 8.500H664" stroke="#555" stroke-width="1" fill="none" shape-rendering="crispEdges"/><rect x="656" y="8" width="1" height="1" fill="#f0f0f0"/>
<path d="M690.500 2V15M713 8.500H725" stroke="#555" stroke-width="1" fill="none" shape-rendering="crispEdges"/><path d="M740.500 15L753 2.700" stroke="#555" stroke-width="1.100" fill="none"/>
<g stroke="#555" stroke-width="1" fill="none"><path d="M767 11.500L778 2M770 14.500L781 5"/><path d="M770 7.500L772.500 13.500M773.500 5L776 11M777 2.500L779 8" stroke-width=".9"/></g><text class="ls" style="font-size:7px;font-weight:bold;fill:#444;stroke:#444;" x="777.800" y="16.900">E</text>
<g stroke="#666" stroke-width="1" stroke-dasharray="1 1" fill="none" shape-rendering="crispEdges"><path d="M796 1.500H809M796 5.500H809M796 8.500H809M796 12.500H805"/></g><text class="ls" style="font-size:7px;font-weight:bold;fill:#444;stroke:#444;" x="805.600" y="16.900">F</text>
<text class="ls" style="font-size:13px;fill:#555;stroke:#555;stroke-width:.4px" x="826.400" y="13">A</text>
<rect x="853.500" y="2.500" width="12" height="12" fill="none" stroke="#666" stroke-width="1" stroke-dasharray="1 1" shape-rendering="crispEdges"/><path d="M855.500 5.500H863.500M859.500 5.500V13" stroke="#555" stroke-width="1.600" fill="none"/>
<g fill="#444"><path d="M880.500 6l3.500 -4l3.500 4z"/><path d="M887 11.500l3.500 4l3.500 -4z"/><path d="M883 9l2 2.500l4 -4" stroke="#444" stroke-width="1.300" fill="none"/></g>
<path d="M901 7H906.6L903.8 10z" fill="#000" shape-rendering="auto"/><g class="tf"><text x="927.4" y="12.3" textLength="13.3" lengthAdjust="spacingAndGlyphs">M1</text><text x="955.6" y="12.3" textLength="12.8" lengthAdjust="spacingAndGlyphs">M5</text><text x="981.6" y="12.3" textLength="17.9" lengthAdjust="spacingAndGlyphs">M15</text><text x="1009.5" y="12.3" textLength="17.9" lengthAdjust="spacingAndGlyphs">M30</text><text x="1041" y="12.3" textLength="11.2" lengthAdjust="spacingAndGlyphs">H1</text><text x="1067.5" y="12.3" textLength="12.5" lengthAdjust="spacingAndGlyphs">H4</text><text x="1096.5" y="12.3" textLength="11.6" lengthAdjust="spacingAndGlyphs">D1</text><text x="1123.9" y="12.3" textLength="14.5" lengthAdjust="spacingAndGlyphs">W1</text><text x="1150.9" y="12.3" textLength="14.4" lengthAdjust="spacingAndGlyphs">MN</text></g>
<g><circle cx="1643.500" cy="5.500" r="3.700" fill="#f4f7fd" stroke="#2a5fd0" stroke-width="1.400"/><path d="M1640.800 8.300L1636 13" stroke="#2a5fd0" stroke-width="2.400" stroke-linecap="round"/></g>
<g><path d="M1660.500 10a5.500 4.500 0 0 1 11 0a5.500 4.500 0 0 1 -6 4.400l-2.500 2.200l.3 -3a5 4.500 0 0 1 -2.800 -3.600z" fill="#e4e6ee" stroke="#b9bcc6" stroke-width=".8"/><circle cx="1674.500" cy="5" r="8.300" fill="#e03a22"/><text style="font-size:12.500px;fill:#fff;stroke:#fff;" x="1671.300" y="9.500">1</text></g>
</g>
</svg>
</body></html>
